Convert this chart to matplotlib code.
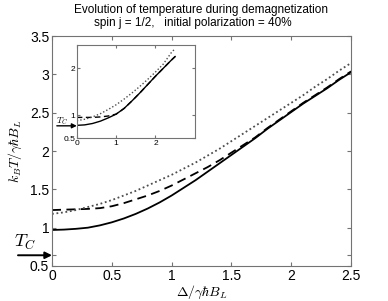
import numpy as np
import matplotlib
matplotlib.use('Agg')
import matplotlib.pyplot as plt

plt.rc('font', family='Liberation Sans', size=10)
plt.rc('mathtext', fontset='cm')

# panel principal
delta = [0.0, 0.1, 0.2, 0.3, 0.4, 0.5, 0.6, 0.7, 0.8, 0.9, 1.0, 1.1, 1.2, 1.3,
         1.4, 1.5, 1.6, 1.7, 1.8, 1.9, 2.0, 2.1, 2.2, 2.3, 2.4, 2.5]
t_solid = [0.97, 0.975, 0.985, 1.00, 1.03, 1.07, 1.12, 1.18, 1.25, 1.33, 1.42, 1.52, 1.62,
           1.73, 1.84, 1.95, 2.06, 2.17, 2.29, 2.40, 2.51, 2.62, 2.72, 2.82, 2.93, 3.03]
t_dash = [1.23, 1.235, 1.24, 1.245, 1.255, 1.28, 1.32, 1.37, 1.42, 1.48, 1.55, 1.63, 1.71,
          1.79, 1.88, 1.98, 2.08, 2.18, 2.30, 2.41, 2.52, 2.63, 2.73, 2.83, 2.94, 3.04]
t_dot = [1.18, 1.20, 1.23, 1.27, 1.31, 1.36, 1.42, 1.48, 1.55, 1.62, 1.69, 1.77, 1.85,
         1.94, 2.03, 2.13, 2.23, 2.33, 2.43, 2.53, 2.63, 2.73, 2.84, 2.94, 3.05, 3.15]
tc_main = 0.64

# recuadro
delta_in = [0.0, 0.2, 0.4, 0.6, 0.8, 1.0, 1.2, 1.4, 1.6, 1.8, 2.0, 2.2, 2.4, 2.5]
t_solid_in = [0.78, 0.79, 0.82, 0.87, 0.94, 1.02, 1.14, 1.30, 1.47, 1.65, 1.83, 2.00, 2.17, 2.25]
t_dash_in = [0.95, 0.95, 0.95, 0.96, 0.98, 1.02, 1.14, 1.30, 1.47, 1.65, 1.83, 2.00, 2.17, 2.25]
t_dot_in = [0.88, 0.91, 0.96, 1.03, 1.12, 1.22, 1.34, 1.47, 1.61, 1.76, 1.92, 2.09, 2.33, 2.42]
tc_in = 0.77

xticks = [0, 0.5, 1, 1.5, 2, 2.5]
xticklabels = ['0', '0.5', '1', '1.5', '2', '2.5']
yticks = [0.5, 1, 1.5, 2, 2.5, 3, 3.5]
yticklabels = ['0.5', '1', '1.5', '2', '2.5', '3', '3.5']

gris = '0.45'

def estilo(ax, tam):
    for s in ax.spines.values():
        s.set_color(gris)
    ax.tick_params(direction='in', top=True, right=True, color=gris,
                   labelsize=tam, length=3, width=0.8, pad=2)

fig = plt.figure(figsize=(3.88, 3.01), dpi=100)
ax = fig.add_axes([0.134, 0.1163, 0.771, 0.7637])

ax.plot(delta, t_solid, color='k', lw=1.3, ls='-')
ax.plot(delta, t_dash, color='k', lw=1.3, ls=(0, (5, 3)))
ax.plot(delta, t_dot, color='0.3', lw=1.3, ls=(0, (1, 1.5)))
ax.set_xlim(0, 2.5)
ax.set_ylim(0.5, 3.5)
ax.set_xticks(xticks)
ax.set_xticklabels(xticklabels)
ax.set_yticks(yticks + [tc_main])
ax.set_yticklabels(yticklabels + [''])
estilo(ax, 10)
ax.set_xlabel(r'$\Delta/\gamma\hbar B_L$', fontsize=10, labelpad=1)
ax.set_ylabel(r'$k_BT/\gamma\hbar B_L$', fontsize=10, labelpad=4)

ax.annotate('', xy=(0, tc_main), xytext=(-34, 0), textcoords='offset pixels',
            arrowprops=dict(arrowstyle='-|>', color='k', lw=1.4,
                            mutation_scale=10, shrinkA=0, shrinkB=0),
            annotation_clip=False)
ax.text(-0.32, tc_main + 0.17, r'$T_C$', fontsize=13, ha='left', va='center',
        clip_on=False)

fig.text(0.518, 0.967, 'Evolution of temperature during demagnetization',
         ha='center', va='center', fontsize=8.5)
fig.text(0.497, 0.924, 'spin j = 1/2,   initial polarization = 40%',
         ha='center', va='center', fontsize=8.5)

# recuadro interior
axi = fig.add_axes([0.198, 0.54, 0.304, 0.311])
axi.plot(delta_in, t_solid_in, color='k', lw=1.0, ls='-')
axi.plot(delta_in, t_dash_in, color='k', lw=1.0, ls=(0, (4, 2.5)))
axi.plot(delta_in, t_dot_in, color='0.3', lw=1.0, ls=(0, (1, 1.5)))
axi.set_xlim(0, 3)
axi.set_ylim(0.5, 2.5)
axi.set_xticks([0, 1, 2])
axi.set_xticklabels(['0', '1', '2'])
axi.set_yticks([0.5, 1, 2])
axi.set_yticklabels(['0.5', '1', '2'])
estilo(axi, 6)
axi.tick_params(length=2, pad=1)
axi.annotate('', xy=(0, tc_in), xytext=(-20, 0), textcoords='offset pixels',
             arrowprops=dict(arrowstyle='-|>', color='k', lw=1.0,
                             mutation_scale=7, shrinkA=0, shrinkB=0),
             annotation_clip=False)
axi.text(-0.52, tc_in + 0.1, r'$T_C$', fontsize=6.5, ha='left', va='center',
         clip_on=False)

fig.savefig('out.png', dpi=100)
